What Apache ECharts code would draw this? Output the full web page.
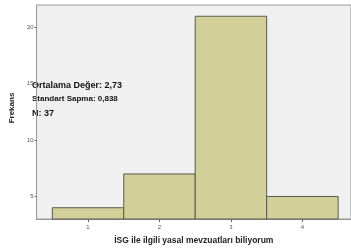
<!DOCTYPE html>
<html>
<head>
<meta charset="utf-8">
<script src="https://cdn.jsdelivr.net/npm/echarts@6/dist/echarts.min.js"></script>
<style>
  html, body { margin: 0; padding: 0; background: #fff; }
  #chart { width: 351px; height: 250px; }
</style>
</head>
<body>
<div id="chart"></div>
<script>
// histogram data
var categories = [1, 2, 3, 4];
var frequencies = [4, 7, 21, 5];
var yTicks = [5, 10, 15, 20];
var statLines = ['Ortalama Değer: 2,73', 'Standart Sapma: 0,838', 'N: 37'];
var xTitle = 'İSG ile ilgili yasal mevzuatları biliyorum';
var yTitle = 'Frekans';

var chart = echarts.init(document.getElementById('chart'));

var barData = categories.map(function (c, i) {
    return [c, frequencies[i]];
});

chart.setOption({
    animation: false,
    textStyle: { fontFamily: 'Arial, "Liberation Sans", sans-serif' },
    grid: {
        left: 30, top: 5, right: -2, bottom: 31,
        show: true,
        backgroundColor: '#f0f0f0',
        borderColor: '#9a9a9a',
        borderWidth: 1
    },
    xAxis: {
        type: 'value',
        min: 0.28,
        max: 4.68,
        name: xTitle,
        nameLocation: 'middle',
        nameGap: 17,
        nameTextStyle: { fontSize: 8.5, fontWeight: 'bold', color: '#222' },
        splitLine: { show: false },
        axisLine: { show: true, lineStyle: { color: '#9a9a9a' } },
        axisTick: { show: true, length: 3, customValues: categories, lineStyle: { color: '#666' } },
        axisLabel: { customValues: categories, fontSize: 6, color: '#555', margin: 5 }
    },
    yAxis: {
        type: 'value',
        min: 3,
        max: 22,
        name: yTitle,
        nameLocation: 'middle',
        nameRotate: 90,
        nameGap: 18,
        nameTextStyle: { fontSize: 8, fontWeight: 'bold', color: '#222', padding: [0, 0, 0, 8] },
        splitLine: { show: false },
        axisLine: { show: true, lineStyle: { color: '#9a9a9a' } },
        axisTick: { show: true, length: 2, customValues: yTicks, lineStyle: { color: '#666' } },
        axisLabel: { customValues: yTicks, fontSize: 6, color: '#555', margin: 3 }
    },
    series: [{
        type: 'custom',
        data: barData,
        renderItem: function (params, api) {
            var x = api.value(0);
            var y = api.value(1);
            var p0 = api.coord([x - 0.5, y]);
            var p1 = api.coord([x + 0.5, 3]);
            return {
                type: 'rect',
                shape: { x: p0[0], y: p0[1], width: p1[0] - p0[0], height: p1[1] - p0[1] },
                style: { fill: '#d3cf98', stroke: '#5a5a50', lineWidth: 1 }
            };
        }
    }],
    graphic: [
        { type: 'text', left: 32, top: 81, style: { text: statLines[0], font: 'bold 9px Arial, "Liberation Sans", sans-serif', fill: '#111' } },
        { type: 'text', left: 32, top: 95, style: { text: statLines[1], font: 'bold 8px Arial, "Liberation Sans", sans-serif', fill: '#111' } },
        { type: 'text', left: 32, top: 109, style: { text: statLines[2], font: 'bold 9px Arial, "Liberation Sans", sans-serif', fill: '#111' } }
    ]
});
</script>
</body>
</html>
